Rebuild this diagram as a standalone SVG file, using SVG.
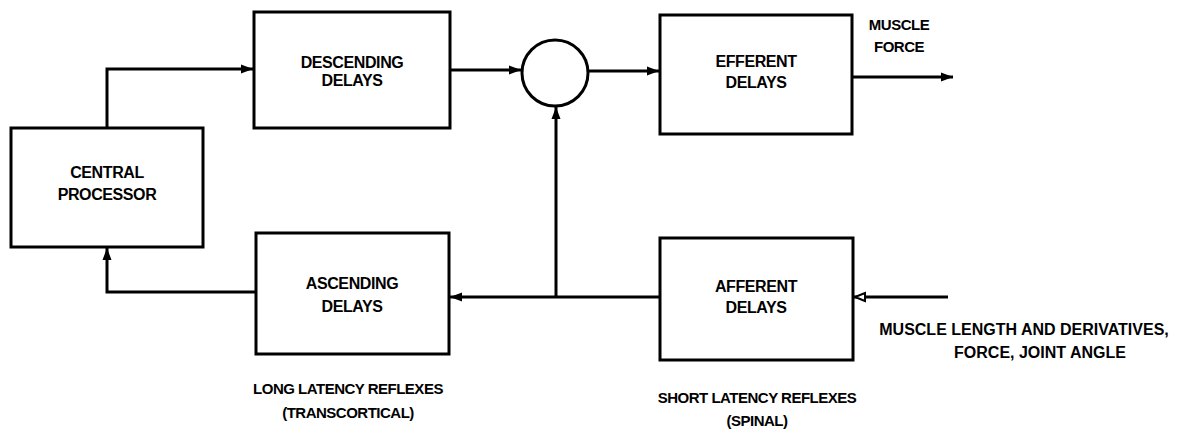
<svg xmlns="http://www.w3.org/2000/svg" width="1188" height="430" viewBox="0 0 1188 430">
  <style>
    .box { fill: #ffffff; stroke: #000000; stroke-width: 3; }
    .sum { fill: #ffffff; stroke: #000000; stroke-width: 3; }
    .wire { fill: none; stroke: #000000; stroke-width: 3; }
    .lbl { font-family: "Liberation Sans", Arial, sans-serif; font-weight: bold; font-size: 16px; fill: #000000; text-anchor: middle; letter-spacing: -0.4px; }
    .note { font-family: "Liberation Sans", Arial, sans-serif; font-weight: bold; font-size: 15px; fill: #000000; text-anchor: middle; letter-spacing: -0.5px; }
    .input { font-family: "Liberation Sans", Arial, sans-serif; font-weight: bold; font-size: 16px; fill: #000000; text-anchor: middle; letter-spacing: 0px; }
  </style>
  <defs>
    <marker id="arrow" markerUnits="userSpaceOnUse" markerWidth="14" markerHeight="12" refX="12" refY="6" orient="auto">
      <path d="M0,1.5 L12,6 L0,10.5 Z" fill="#000000"/>
    </marker>
    <marker id="arrow-open" markerUnits="userSpaceOnUse" markerWidth="14" markerHeight="12" refX="12" refY="6" orient="auto">
      <path d="M1,2 L11,6 L1,10 Z" fill="#ffffff" stroke="#000000" stroke-width="2"/>
    </marker>
  </defs>

  <rect width="1188" height="430" fill="#ffffff"/>

  <!-- signal paths -->
  <g id="connectors">
    <path class="wire" d="M107,128 V69 H253" marker-end="url(#arrow)"/>
    <path class="wire" d="M450,70 H521" marker-end="url(#arrow)"/>
    <path class="wire" d="M588,71 H659" marker-end="url(#arrow)"/>
    <path class="wire" d="M852,77 H953" marker-end="url(#arrow)"/>
    <path class="wire" d="M556,297 V107" marker-end="url(#arrow)"/>
    <path class="wire" d="M660,297 H450" marker-end="url(#arrow)"/>
    <path class="wire" d="M256,292 H107 V248" marker-end="url(#arrow)"/>
    <path class="wire" d="M948,297 H854" marker-end="url(#arrow-open)"/>
  </g>

  <g id="central-processor">
    <rect class="box" x="11" y="128" width="192" height="119"/>
    <text class="lbl" x="107" y="178">CENTRAL</text>
    <text class="lbl" x="107" y="200">PROCESSOR</text>
  </g>

  <g id="descending-delays">
    <rect class="box" x="254" y="12" width="196" height="116"/>
    <text class="lbl" x="352" y="68">DESCENDING</text>
    <text class="lbl" x="352" y="86">DELAYS</text>
  </g>

  <g id="summing-junction">
    <circle class="sum" cx="555" cy="73" r="33"/>
  </g>

  <g id="efferent-delays">
    <rect class="box" x="660" y="15" width="192" height="119"/>
    <text class="lbl" x="756" y="67">EFFERENT</text>
    <text class="lbl" x="756" y="88">DELAYS</text>
  </g>

  <g id="muscle-force">
    <text class="note" x="899" y="30">MUSCLE</text>
    <text class="note" x="899" y="52">FORCE</text>
  </g>

  <g id="ascending-delays">
    <rect class="box" x="256" y="233" width="193" height="121"/>
    <text class="lbl" x="352" y="289">ASCENDING</text>
    <text class="lbl" x="352" y="312">DELAYS</text>
  </g>

  <g id="afferent-delays">
    <rect class="box" x="660" y="238" width="193" height="122"/>
    <text class="lbl" x="756" y="292">AFFERENT</text>
    <text class="lbl" x="756" y="313">DELAYS</text>
  </g>

  <g id="sensor-inputs">
    <text class="input" x="1024" y="335">MUSCLE LENGTH AND DERIVATIVES,</text>
    <text class="input" x="1040" y="358">FORCE, JOINT ANGLE</text>
  </g>

  <g id="long-latency">
    <text class="note" x="348" y="394">LONG LATENCY REFLEXES</text>
    <text class="note" x="348" y="418">(TRANSCORTICAL)</text>
  </g>

  <g id="short-latency">
    <text class="note" x="757" y="403">SHORT LATENCY REFLEXES</text>
    <text class="note" x="757" y="426">(SPINAL)</text>
  </g>
</svg>
